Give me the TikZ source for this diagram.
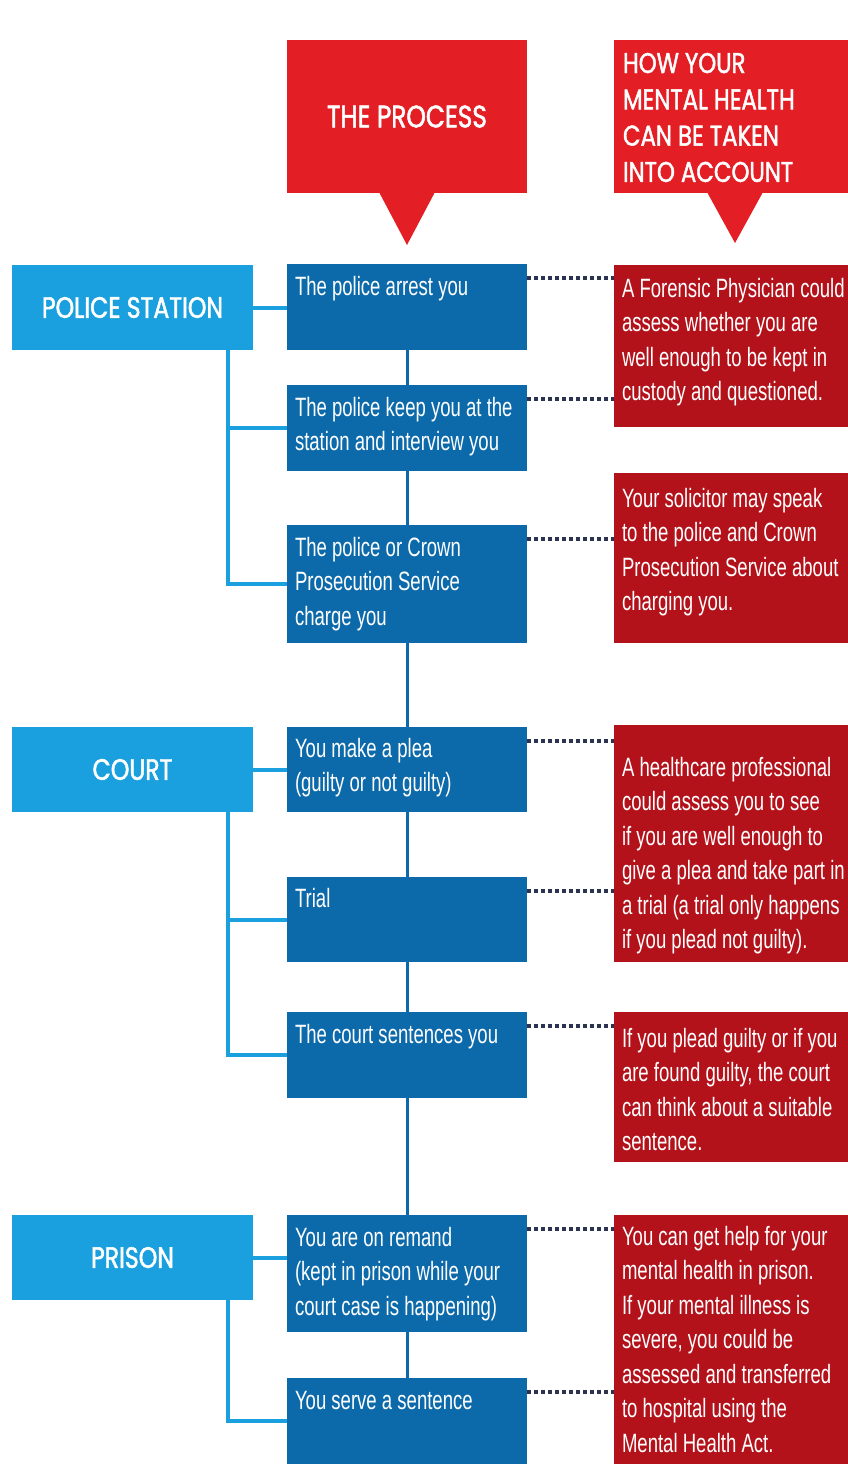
\documentclass[tikz,border=0pt]{standalone}
\usepackage{fontspec}
\setmainfont{Liberation Sans}
\newfontfamily\bodyfont[FakeStretch=0.70]{Liberation Sans}
\newfontfamily\headfont[FakeStretch=0.80, FakeBold=1.6]{Poppins}
\definecolor{hred}{HTML}{E31E24}
\definecolor{bred}{HTML}{B3121B}
\definecolor{lblue}{HTML}{1AA0DE}
\definecolor{dblue}{HTML}{0C6AAA}
\definecolor{dotcol}{HTML}{2B3350}
\newcommand\tbox[4]{\parbox[c][#2][t]{#1}{\raggedright\leftskip=8pt\rule{0pt}{#3}#4}}
\tikzset{
  box/.style={anchor=north west, inner sep=0pt, outer sep=0pt, text=white},
  procbox/.style={box, fill=dblue, font=\bodyfont\fontsize{26.5}{34.5}\selectfont},
  notebox/.style={box, fill=bred, font=\bodyfont\fontsize{26.5}{34.5}\selectfont},
  catbox/.style={box, fill=lblue, minimum width=241pt, minimum height=85pt, font=\headfont\fontsize{29.5}{36}\selectfont},
  headbox/.style={box, fill=hred, font=\headfont\fontsize{28.5}{36.3}\selectfont},
  lconn/.style={draw=lblue, line width=4pt},
  dconn/.style={draw=dblue, line width=3pt},
  dotconn/.style={draw=dotcol, line width=4pt, dash pattern=on 3.5pt off 3.5pt},
}
\begin{document}
\begin{tikzpicture}[x=1pt, y=-1pt]
\fill[white] (0,0) rectangle (848,1464);
\useasboundingbox (0,0) rectangle (848,1464);

% headers
\node[headbox, minimum width=240pt, minimum height=153pt, font=\headfont\fontsize{31}{36}\selectfont] (h1) at (287,40) {THE PROCESS};
\fill[hred] (h1.south) ++(-28,-1) -- ++(56,0) -- ++(-28,53) -- cycle;
\node[headbox] (h2) at (614,40) {\parbox[c][153pt][t]{240pt}{\raggedright\leftskip=9pt\rule{0pt}{33pt}HOW YOUR\\MENTAL HEALTH\\CAN BE TAKEN\\INTO ACCOUNT}};
\fill[hred] (h2.south west) ++(93,-1) -- ++(56,0) -- ++(-28,51) -- cycle;

% category boxes
\node[catbox] (ps) at (12,265) {POLICE STATION};
\node[catbox] (ct) at (12,727) {COURT};
\node[catbox] (pr) at (12,1215) {PRISON};

% process boxes
\node[procbox] (p1) at (287,264) {\tbox{240pt}{86pt}{31pt}{The police arrest you}};
\node[procbox] (p2) at (287,385) {\tbox{240pt}{86pt}{31pt}{The police keep you at the\\station and interview you}};
\node[procbox] (p3) at (287,525) {\tbox{240pt}{118pt}{31pt}{The police or Crown\\Prosecution Service\\charge you}};
\node[procbox] (p4) at (287,727) {\tbox{240pt}{85pt}{30pt}{You make a plea\\(guilty or not guilty)}};
\node[procbox] (p5) at (287,877) {\tbox{240pt}{85pt}{30pt}{Trial}};
\node[procbox] (p6) at (287,1012) {\tbox{240pt}{86pt}{31pt}{The court sentences you}};
\node[procbox] (p7) at (287,1215) {\tbox{240pt}{117pt}{31pt}{You are on remand\\(kept in prison while your\\court case is happening)}};
\node[procbox] (p8) at (287,1378) {\tbox{240pt}{86pt}{31pt}{You serve a sentence}};

% note boxes
\node[notebox] (rA) at (614,265) {\tbox{234pt}{162pt}{32pt}{A Forensic Physician could\\assess whether you are\\well enough to be kept in\\custody and questioned.}};
\node[notebox] (rB) at (614,473) {\tbox{234pt}{170pt}{34pt}{Your solicitor may speak\\to the police and Crown\\Prosecution Service about\\charging you.}};
\node[notebox] (rC) at (614,725) {\tbox{234pt}{237pt}{51pt}{A healthcare professional\\could assess you to see\\if you are well enough to\\give a plea and take part in\\a trial (a trial only happens\\if you plead not guilty).}};
\node[notebox] (rD) at (614,1012) {\tbox{234pt}{150pt}{35pt}{If you plead guilty or if you\\are found guilty, the court\\can think about a suitable\\sentence.}};
\node[notebox] (rE) at (614,1215) {\tbox{234pt}{249pt}{30pt}{You can get help for your\\mental health in prison.\\If your mental illness is\\severe, you could be\\assessed and transferred\\to hospital using the\\Mental Health Act.}};

% process chain
\draw[dconn] (p1.south) -- (p2.north);
\draw[dconn] (p2.south) -- (p3.north);
\draw[dconn] (p3.south) -- (p4.north);
\draw[dconn] (p4.south) -- (p5.north);
\draw[dconn] (p5.south) -- (p6.north);
\draw[dconn] (p6.south) -- (p7.north);
\draw[dconn] (p7.south) -- (p8.north);

% category connectors
\draw[lconn] (ps.east) -- (ps.east -| p1.west);
\coordinate (psx) at (228,350);
\draw[lconn] (psx) |- (p3.west);
\draw[lconn] (psx |- p2.west) -- (p2.west);

\draw[lconn] (ct.east) -- (ct.east -| p4.west);
\coordinate (ctx) at (228,812);
\draw[lconn] (ctx) |- (p6.west);
\draw[lconn] (ctx |- p5.west) -- (p5.west);

\draw[lconn] (pr.east) -- (pr.east -| p7.west);
\coordinate (prx) at (228,1300);
\draw[lconn] (prx) |- (p8.west);

% dotted links
\foreach \p/\r [count=\i] in {p1/rA, p2/rA, p3/rB, p4/rC, p5/rC, p6/rD, p7/rE, p8/rE}{
  \coordinate (d\i) at ([yshift=-14pt]\p.north east);
  \draw[dotconn] (d\i) -- (d\i -| \r.west);
}
\end{tikzpicture}
\end{document}
